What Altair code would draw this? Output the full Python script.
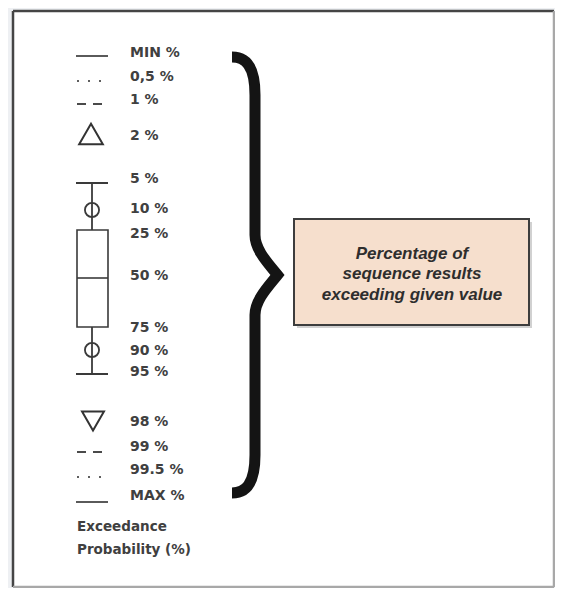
import altair as alt
import pandas as pd

# ---- data ----
pct_labels = ["MIN %", "0,5 %", "1 %", "2 %", "5 %", "10 %", "25 %", "50 %",
              "75 %", "90 %", "95 %", "98 %", "99 %", "99.5 %", "MAX %"]
pct_y = [53, 77, 100, 136, 179, 209, 234, 276, 328, 351, 372, 422, 447, 470, 496]

title_lines = ["Exceedance", "Probability (%)"]
title_y = [527, 550]

note_lines = ["Percentage of", "sequence results", "exceeding given value"]
note_y = [254, 274, 295]

line_names = ["MIN", "0,5", "1", "99", "99.5", "MAX"]
line_kind = ["solid", "dotted", "dashed", "dashed", "dotted", "solid"]
line_y = [56, 81, 104, 452, 477, 502]
kind_x = {"solid": (76, 108), "dotted": (77, 101), "dashed": (77, 102)}

tri_names = ["2", "98"]
tri_shape = ["triangle-up", "triangle-down"]
tri_y = [134, 421]

box_q = ["5", "10", "25", "50", "75", "90", "95"]
box_y = [183, 210, 230, 278, 327, 350, 374]

# ---- scales: plot coordinates = picture pixels ----
W, H = 547, 580
XS = alt.Scale(domain=[8, 8 + W], nice=False, zero=False)
YS = alt.Scale(domain=[8, 8 + H], nice=False, zero=False, reverse=True)

def X(f="x"):
    return alt.X(f + ":Q", scale=XS, axis=None)

def Y(f="y"):
    return alt.Y(f + ":Q", scale=YS, axis=None)

LAB_FONT = "DejaVu Sans"

# frame
frame_df = pd.DataFrame({"x": [13], "x2": [554], "y": [11], "y2": [587]})
frame = alt.Chart(frame_df).mark_rect(fill="white").encode(
    x=X(), x2="x2:Q", y=Y(), y2="y2:Q")
edges_df = pd.DataFrame({
    "x": [13, 13, 554, 13], "x2": [13, 554, 554, 554],
    "y": [11, 11, 11, 587], "y2": [587, 11, 587, 587],
    "c": ["dark", "dark", "light", "light"]})
edges = alt.Chart(edges_df).mark_rule(strokeWidth=2.5).encode(
    x=X(), x2="x2:Q", y=Y(), y2="y2:Q",
    color=alt.Color("c:N", scale=alt.Scale(domain=["dark", "light"],
                                           range=["#454545", "#a8a8a8"]),
                    legend=None))

# line-style symbols
ldf = pd.DataFrame({"name": line_names, "kind": line_kind, "y": line_y})
ldf["x"] = [kind_x[k][0] for k in line_kind]
ldf["x2"] = [kind_x[k][1] for k in line_kind]
solid = alt.Chart(ldf[ldf.kind == "solid"]).mark_rule(
    stroke="#5a5a5a", strokeWidth=2).encode(x=X(), x2="x2:Q", y=Y())
dotted = alt.Chart(ldf[ldf.kind == "dotted"]).mark_rule(
    stroke="#5f5f5f", strokeWidth=2, strokeDash=[2, 9]).encode(x=X(), x2="x2:Q", y=Y())
dashed = alt.Chart(ldf[ldf.kind == "dashed"]).mark_rule(
    stroke="#4a4a4a", strokeWidth=2, strokeDash=[9, 7]).encode(x=X(), x2="x2:Q", y=Y())

# triangles
tdf = pd.DataFrame({"name": tri_names, "shape": tri_shape, "y": tri_y, "x": [91, 93]})
tri_up = alt.Chart(tdf[tdf["shape"] == "triangle-up"]).mark_point(
    shape="triangle-up", size=560, filled=False, stroke="#333333", strokeWidth=2,
    opacity=1).encode(x=X(), y=Y())
tri_down = alt.Chart(tdf[tdf["shape"] == "triangle-down"]).mark_point(
    shape="triangle-down", size=480, filled=False, stroke="#333333", strokeWidth=2,
    opacity=1).encode(x=X(), y=Y())

# box plot symbol
q = dict(zip(box_q, box_y))
whisk_df = pd.DataFrame({"x": [92, 92], "y": [q["5"], q["75"]], "y2": [q["25"], q["95"]]})
whisk = alt.Chart(whisk_df).mark_rule(stroke="#3a3a3a", strokeWidth=1.8).encode(
    x=X(), y=Y(), y2="y2:Q")
caps_df = pd.DataFrame({"x": [76, 76], "x2": [108, 108], "y": [q["5"], q["95"]]})
caps = alt.Chart(caps_df).mark_rule(stroke="#3a3a3a", strokeWidth=2).encode(
    x=X(), x2="x2:Q", y=Y())
box_df = pd.DataFrame({"x": [77], "x2": [108], "y": [q["25"]], "y2": [q["75"]]})
box = alt.Chart(box_df).mark_rect(fill="white", stroke="#3a3a3a", strokeWidth=1.6).encode(
    x=X(), x2="x2:Q", y=Y(), y2="y2:Q")
med_df = pd.DataFrame({"x": [77], "x2": [108], "y": [q["50"]]})
med = alt.Chart(med_df).mark_rule(stroke="#3a3a3a", strokeWidth=1.6).encode(
    x=X(), x2="x2:Q", y=Y())
circ_df = pd.DataFrame({"x": [92, 92], "y": [q["10"], q["90"]]})
circ = alt.Chart(circ_df).mark_point(shape="circle", size=200, filled=False,
                                     stroke="#3a3a3a", strokeWidth=1.8, opacity=1).encode(
    x=X(), y=Y())

# labels
lab_df = pd.DataFrame({"t": pct_labels, "y": pct_y, "x": [130] * len(pct_labels)})
labels = alt.Chart(lab_df).mark_text(
    align="left", baseline="middle", font=LAB_FONT, fontWeight="bold",
    fontSize=14, color="#404040").encode(x=X(), y=Y(), text="t:N")
tt_df = pd.DataFrame({"t": title_lines, "y": title_y, "x": [77, 77]})
titles = alt.Chart(tt_df).mark_text(
    align="left", baseline="middle", font=LAB_FONT, fontWeight="bold",
    fontSize=13.5, color="#404040").encode(x=X(), y=Y(), text="t:N")

# brace
BRACE = ("M-0.1022,-0.9689 C-0.0444,-0.9689 0,-0.9333 0,-0.8 L0,-0.1778 "
         "C0,-0.1111 0.06,-0.05 0.1,0 C0.06,0.05 0,0.1111 0,0.1778 "
         "L0,0.8 C0,0.9333 -0.0444,0.9689 -0.1022,0.9689")
br_df = pd.DataFrame({"x": [255], "y": [275]})
brace = alt.Chart(br_df).mark_point(
    shape=BRACE, size=450 * 450, filled=False, stroke="#141414", strokeWidth=11,
    strokeCap="butt", strokeJoin="miter", opacity=1).encode(x=X(), y=Y())

# note box
nb_df = pd.DataFrame({"x": [294], "x2": [529], "y": [219], "y2": [325]})
shadow_df = pd.DataFrame({"x": [297], "x2": [532], "y": [222], "y2": [328]})
shadow = alt.Chart(shadow_df).mark_rect(fill="#9a9a9a", opacity=0.45).encode(
    x=X(), x2="x2:Q", y=Y(), y2="y2:Q")
nbox = alt.Chart(nb_df).mark_rect(fill="#f6dfcd", stroke="#3d3d3d", strokeWidth=2).encode(
    x=X(), x2="x2:Q", y=Y(), y2="y2:Q")
nt_df = pd.DataFrame({"t": note_lines, "y": note_y, "x": [412] * 3})
ntext = alt.Chart(nt_df).mark_text(
    align="center", baseline="middle", font="Liberation Sans", fontWeight="bold",
    fontStyle="italic", fontSize=17, color="#2e2e2e").encode(x=X(), y=Y(), text="t:N")

chart = alt.layer(
    frame, edges, solid, dotted, dashed, tri_up, tri_down,
    whisk, caps, box, med, circ, labels, titles, brace, shadow, nbox, ntext
).properties(
    width=W, height=H, padding=0, autosize=alt.AutoSizeParams(type="none"),
    background="#eef0f3"
).configure_view(stroke=None)

chart.save("out.html", embed_options={"renderer": "svg", "actions": False})
